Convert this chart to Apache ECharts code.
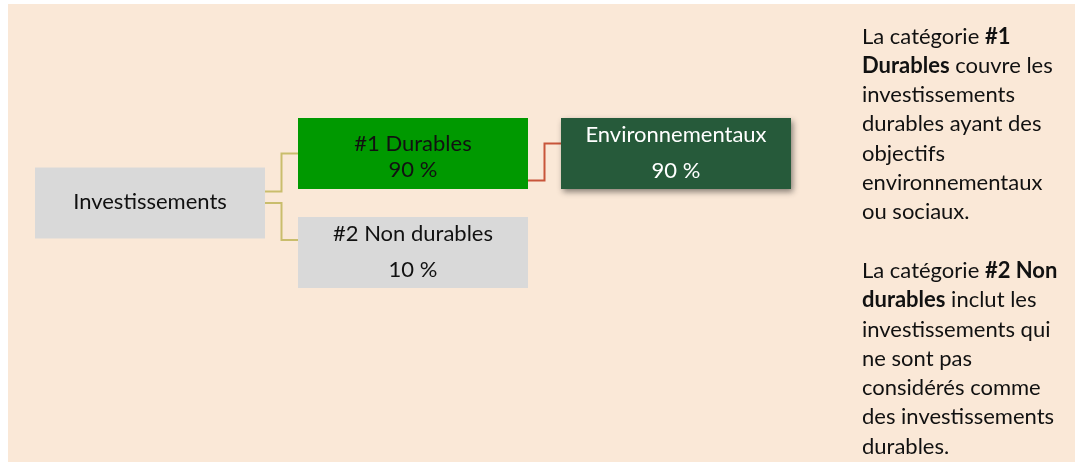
<!DOCTYPE html>
<html><head><meta charset="utf-8">
<script src="https://cdn.jsdelivr.net/npm/echarts@6/dist/echarts.min.js"></script>
<style>html,body{margin:0;padding:0;background:#fff}#c{width:1077px;height:462px}</style>
</head><body><div id="c"></div>
<script>
// ---- data ----
const nodeNames   = ['Investissements', '#1 Durables', '#2 Non durables', 'Environnementaux'];
const nodeValues  = ['', '90 %', '10 %', '90 %'];
const nodeLevels  = [0, 1, 1, 2];
const nodeRows    = [0.5, 0, 1, 0];
const nodeParents = [-1, 0, 0, 1];
const noteLines = [
  'La catégorie {b|#1}',
  '{b|Durables} couvre les',
  'investissements',
  'durables ayant des',
  'objectifs',
  'environnementaux',
  'ou sociaux.',
  '',
  'La catégorie {b|#2 Non}',
  '{b|durables} inclut les',
  'investissements qui',
  'ne sont pas',
  'considérés comme',
  'des investissements',
  'durables.'
];

// ---- styles ----
const FONT = 'Lato';
const FS = 22;
const BOX_W = 230, BOX_H = 71;
const nodeStyle = [
  { fill: '#D9D9D9', color: '#111', l1: -1.5, l2: 0 },
  { fill: '#009900', color: '#111', l1: -10, l2: 16.5 },
  { fill: '#D9D9D9', color: '#111', l1: -19, l2: 17 },
  { fill: '#265A3A', color: '#fff', l1: -18.5, l2: 17.5, shadow: true }
];
const linkStyle = {
  1: { color: '#C9BD6C', s: -11.5, e: 0 },
  2: { color: '#C9BD6C', s: 0, e: -12.5 },
  3: { color: '#C8553A', s: 27, e: -10 }
};

const nodeData = nodeNames.map((n, i) => [nodeLevels[i], nodeRows[i], i]);
const linkData = nodeParents.map((p, i) => [nodeLevels[i], nodeRows[i], i]).filter(d => nodeParents[d[2]] >= 0);

function renderNode(params, api) {
  const i = api.value(2);
  const c = api.coord([api.value(0), api.value(1)]);
  const st = nodeStyle[i];
  const rectStyle = { fill: st.fill };
  if (st.shadow) {
    rectStyle.shadowBlur = 6; rectStyle.shadowOffsetX = 2; rectStyle.shadowOffsetY = 3;
    rectStyle.shadowColor = 'rgba(0,0,0,0.45)';
  }
  const children = [{
    type: 'rect',
    shape: { x: c[0] - BOX_W / 2, y: c[1] - BOX_H / 2, width: BOX_W, height: BOX_H },
    style: rectStyle
  }];
  const tStyle = (txt, dy) => ({
    type: 'text',
    style: { text: txt, x: c[0], y: c[1] + dy, align: 'center', verticalAlign: 'middle',
             fill: st.color, font: FS + 'px ' + FONT }
  });
  children.push(tStyle(nodeNames[i], st.l1));
  if (nodeValues[i]) children.push(tStyle(nodeValues[i], st.l2));
  return { type: 'group', children };
}

function renderLink(params, api) {
  const i = api.value(2);
  const p = nodeParents[i];
  const pc = api.coord([nodeLevels[p], nodeRows[p]]);
  const cc = api.coord([api.value(0), api.value(1)]);
  const ls = linkStyle[i];
  const x0 = pc[0] + BOX_W / 2, x1 = cc[0] - BOX_W / 2;
  const mx = (x0 + x1) / 2;
  const y0 = pc[1] + ls.s, y1 = cc[1] + ls.e;
  return {
    type: 'polyline',
    shape: { points: [[x0, y0], [mx, y0], [mx, y1], [x1, y1]] },
    style: { stroke: ls.color, lineWidth: 2, fill: null }
  };
}

const noteGraphics = noteLines.map((t, k) => ({
  type: 'text',
  left: 862,
  top: 22 + k * 29.3,
  style: {
    text: t, fill: '#111', font: FS + 'px ' + FONT, lineHeight: 29,
    rich: { b: { fontWeight: 'bold', fontFamily: FONT, fontSize: FS, fill: '#111', lineHeight: 29 } }
  }
}));

const chart = echarts.init(document.getElementById('c'), null, { renderer: 'canvas' });
chart.setOption({
  animation: false,
  backgroundColor: '#fff',
  graphic: [
    { type: 'rect', z: -10, shape: { x: 8, y: 4, width: 1067, height: 458 }, style: { fill: '#FAE8D7' } }
  ].concat(noteGraphics),
  grid: { left: 150, right: 401, top: 153.5, bottom: 209.5, containLabel: false },
  xAxis: { type: 'value', min: 0, max: 2, show: false },
  yAxis: { type: 'value', min: 0, max: 1, inverse: true, show: false },
  series: [
    { type: 'custom', renderItem: renderLink, data: linkData, z: 1, silent: true },
    { type: 'custom', renderItem: renderNode, data: nodeData, z: 2, silent: true }
  ]
});
</script>
</body></html>
